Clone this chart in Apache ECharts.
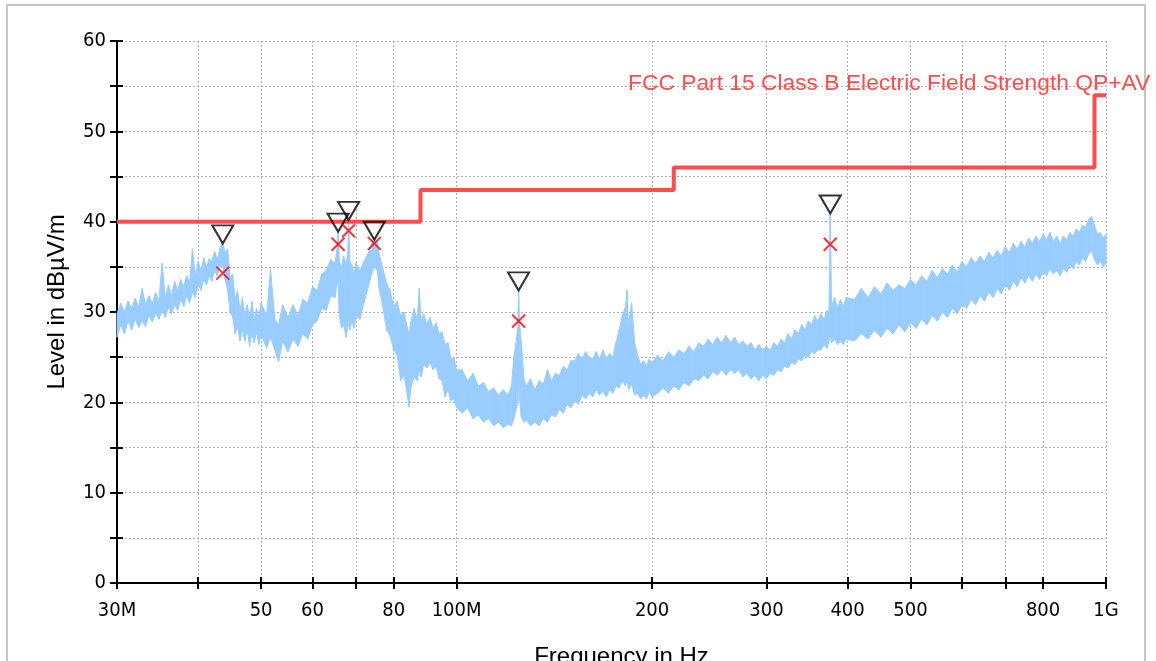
<!DOCTYPE html>
<html>
<head>
<meta charset="utf-8">
<title>Radiated emission scan</title>
<script src="https://cdn.jsdelivr.net/npm/echarts@6.0.0/dist/echarts.min.js"></script>
<style>
  html, body { margin: 0; padding: 0; background: #fff; }
  #chart { width: 1156px; height: 661px; }
</style>
</head>
<body>
<div id="chart"></div>
<script>
// scan trace drawn as a noise band: frequency in MHz, min / max level in dBuV/m
var bandFreq = [
  30.0, 30.4, 30.8, 31.2, 31.6, 32.0, 32.4, 32.8, 33.2, 33.6, 34.0, 34.4, 34.8, 35.2, 35.6, 36.0, 36.4,
  36.8, 37.2, 37.6, 38.0, 38.4, 38.8, 39.2, 39.6, 40.0, 40.4, 40.8, 41.2, 41.6, 42.0, 42.4, 42.8, 43.2,
  43.6, 44.0, 44.4, 44.8, 45.2, 45.6, 46.0, 46.4, 46.8, 47.2, 47.6, 48.0, 48.4, 48.8, 49.2, 49.6, 50.0,
  51, 51.7, 52.5, 53.2, 54, 55, 56, 57, 58, 59, 60, 61, 62, 63, 64, 65, 65.4, 65.7, 66.0, 66.5, 67, 67.6,
  68.0, 68.2, 68.5, 69, 69.5, 70, 71, 72, 73, 74, 74.7, 75.5, 76, 77, 78, 79, 80, 81, 82, 83, 84, 84.5,
  85, 86, 87, 87.6, 88.2, 89, 90, 91, 92, 93, 94, 95, 96, 97, 98, 99, 100,
  102, 104, 106, 108, 110, 112, 114, 116, 118, 120, 121.5, 122.5, 123.5, 124.2, 124.6, 125.0, 125.8, 127,
  128, 130, 132, 134, 136, 138, 140, 142, 144, 146, 148, 150, 152, 154, 156, 158, 160, 162, 164, 166,
  168, 170, 172, 174, 176, 178, 180, 182, 183, 184, 186, 188, 190, 192, 194, 196, 198, 200,
  204, 208, 212, 216, 220, 224, 228, 232, 236, 240, 244, 248, 252, 256, 260, 264, 268, 272, 276, 280,
  284, 288, 292, 296, 300, 304, 308, 312, 316, 320, 324, 328, 332, 336, 340, 344, 348, 352, 356, 360,
  364, 368, 372, 374.5, 376.2, 378, 382, 386, 390, 394, 398,
  410, 420, 430, 440, 450, 460, 470, 480, 490, 500, 510, 520, 530, 540, 550, 560, 570, 580, 590, 600,
  610, 620, 630, 640, 650, 660, 670, 680, 690, 700, 710, 720, 730, 740, 750, 760, 770, 780, 790, 800,
  810, 820, 830, 840, 850, 860, 870, 880, 890, 900, 910, 920, 930, 940, 950, 960, 970, 980, 990, 1000
];
var bandLow = [
  27.2, 28.6, 27.6, 29.0, 28.0, 29.2, 28.3, 29.0, 28.4, 29.6, 28.9, 29.8, 29.2, 30.2, 29.4, 30.5, 29.8,
  30.8, 30.2, 31.4, 30.6, 31.8, 31.0, 32.2, 31.6, 33.0, 32.4, 33.6, 33.0, 34.0, 33.4, 34.6, 34.0, 35.0,
  35.2, 33.6, 32.5, 30.0, 29.5, 27.6, 28.4, 26.8, 28.0, 26.8, 28.0, 26.2, 27.6, 26.6, 27.8, 26.4, 27.5,
  26.0, 27.2, 25.8, 24.5, 26.8, 25.6, 27.0, 26.2, 27.6, 27.0, 28.6, 29.0, 30.4, 30.2, 31.8, 31.6, 33.0, 33.4, 29.6, 28.2, 28.6, 27.2,
  28.4, 29.2, 28.0, 29.0, 28.2, 29.6, 29.2, 31.0, 32.6, 34.2, 35.0, 34.6, 32.6, 30.6, 28.0, 27.4, 25.8, 25.2, 22.4, 23.0, 20.8, 19.5,
  21.6, 22.8, 22.4, 23.6, 22.8, 24.2, 23.8, 24.4, 23.6, 24.0, 22.6, 22.4, 20.6, 21.4, 20.2, 20.4, 19.4,
  18.8, 19.4, 18.2, 18.6, 17.8, 18.2, 17.4, 17.8, 17.2, 17.6, 17.4, 18.2, 19.2, 20.0, 22.0, 20.4, 18.4, 17.8,
  18.0, 17.4, 17.8, 17.4, 18.2, 17.8, 18.6, 18.4, 19.2, 18.8, 19.8, 19.4, 20.2, 19.8, 20.8, 20.4, 21.0, 20.6, 21.4, 20.8,
  21.2, 20.6, 21.4, 21.0, 21.8, 21.6, 22.4, 21.8, 22.6, 21.4, 22.0, 20.8, 21.0, 20.4, 20.8, 20.4, 21.2, 20.6,
  21.0, 21.6, 21.0, 21.8, 21.4, 22.2, 21.8, 22.6, 22.4, 23.0, 22.6, 23.4, 23.0, 23.6, 23.0, 23.6, 23.2, 23.6, 22.8, 23.2,
  22.6, 23.0, 22.4, 23.0, 22.6, 23.2, 23.0, 23.6, 23.4, 24.0, 23.8, 24.4, 24.2, 24.8, 24.6, 25.2, 25.0, 25.6, 25.4, 25.8,
  25.8, 26.4, 26.0, 26.8, 27.5, 26.6, 27.0, 26.4, 26.8, 26.4, 27.0,
  26.8, 27.6, 27.0, 28.0, 27.2, 28.2, 27.6, 28.6, 27.8, 28.8, 28.2, 29.2, 28.6, 29.6, 29.0, 30.0, 29.4, 30.4, 29.8, 30.8,
  30.4, 31.4, 30.8, 31.8, 31.2, 32.2, 31.6, 32.6, 32.0, 33.0, 32.4, 33.4, 32.8, 33.8, 33.2, 34.0, 33.4, 34.2, 33.6, 34.4,
  34.0, 34.8, 34.2, 34.6, 34.0, 34.8, 34.4, 35.2, 34.8, 35.6, 35.2, 36.0, 35.6, 36.4, 36.8, 35.8, 35.2, 35.6, 35.0, 35.4
];
var bandHigh = [
  29.8, 31.0, 30.0, 31.2, 30.4, 31.5, 30.6, 32.6, 30.8, 31.8, 30.9, 32.2, 31.2, 35.4, 31.6, 33.0, 31.8,
  33.4, 32.4, 33.6, 32.8, 34.0, 33.2, 37.0, 34.0, 35.6, 34.6, 36.0, 35.0, 35.9, 35.6, 36.7, 35.8, 37.0,
  37.8, 36.6, 37.0, 33.8, 34.2, 31.5, 32.4, 30.2, 31.6, 29.6, 30.8, 29.4, 31.2, 29.2, 30.4, 29.4, 31.0,
  29.6, 34.8, 29.2, 28.6, 30.8, 29.4, 30.8, 29.6, 31.4, 31.0, 32.8, 32.4, 34.2, 34.6, 35.8, 35.4, 36.8, 38.9, 35.6, 35.0, 36.2, 35.2,
  36.6, 40.0, 35.6, 35.2, 34.2, 35.4, 34.6, 35.6, 36.4, 37.6, 38.2, 37.8, 36.4, 34.8, 33.2, 32.4, 30.6, 31.2, 29.6, 30.0, 28.2, 27.6,
  28.8, 30.4, 29.2, 32.6, 29.0, 29.8, 28.6, 29.4, 28.2, 28.8, 27.6, 27.8, 26.4, 26.6, 24.8, 25.0, 23.6,
  23.6, 22.4, 23.2, 21.8, 22.2, 21.2, 21.6, 20.8, 21.4, 20.8, 21.8, 25.0, 26.6, 28.2, 32.4, 28.8, 26.6, 22.6,
  21.8, 22.6, 21.4, 22.4, 22.0, 23.6, 22.4, 23.2, 23.0, 24.0, 23.6, 24.6, 24.6, 25.4, 24.8, 25.6, 25.0, 24.8, 25.6, 24.8,
  25.8, 24.8, 25.4, 25.0, 26.6, 28.0, 29.6, 30.6, 32.4, 28.6, 31.0, 26.6, 25.2, 24.2, 24.6, 24.0, 24.8, 24.4,
  25.2, 24.6, 25.6, 25.0, 25.8, 25.4, 26.2, 25.6, 26.6, 26.2, 27.0, 26.4, 27.2, 26.6, 27.4, 26.6, 27.2, 26.4, 26.8, 26.2,
  26.6, 25.8, 26.4, 25.8, 26.2, 25.8, 26.6, 26.2, 27.0, 26.6, 27.6, 27.0, 28.0, 27.6, 28.6, 28.0, 29.0, 28.6, 29.6, 29.0,
  29.8, 29.2, 30.2, 30.0, 40.9, 30.6, 31.6, 30.4, 31.4, 30.6, 31.6,
  31.4, 32.6, 31.6, 32.8, 32.0, 33.2, 32.4, 33.0, 32.6, 33.6, 33.0, 34.0, 33.4, 34.6, 33.8, 34.8, 34.2, 35.2, 34.4, 35.6,
  35.0, 36.0, 35.4, 36.2, 35.6, 36.6, 36.0, 36.8, 36.2, 37.2, 36.6, 37.6, 37.0, 37.8, 37.2, 38.2, 37.6, 38.4, 37.8, 38.6,
  38.0, 38.8, 37.8, 38.4, 37.6, 38.4, 38.0, 38.8, 38.4, 39.2, 38.8, 39.6, 39.4, 40.2, 40.6, 39.6, 38.6, 38.8, 38.2, 38.6
];

// FCC Part 15 Class B limit (steps)
var limitFreq = [30, 88, 88, 216, 216, 960, 960, 1000];
var limitLevel = [40, 40, 43.5, 43.5, 46, 46, 54, 54];

// peak markers (triangles) and QP results (crosses)
var peakFreq = [43.65, 65.7, 68.2, 74.7, 124.6, 376.2];
var peakLevel = [37.6, 38.9, 40.2, 38.0, 32.4, 40.9];
var qpFreq = [43.65, 65.7, 68.2, 74.7, 124.6, 376.2];
var qpLevel = [34.3, 37.5, 39.0, 37.6, 29.0, 37.5];

// axis ticks
var xTickValues = [30, 40, 50, 60, 70, 80, 100, 200, 300, 400, 500, 600, 700, 800, 1000];
var xLabelValues = [30, 50, 60, 80, 100, 200, 300, 400, 500, 800, 1000];
var xLabelTexts = ['30M', '50', '60', '80', '100M', '200', '300', '400', '500', '800', '1G'];

function zip(xs, ys) {
  return xs.map(function (x, i) { return [x, ys[i]]; });
}

// one row per band piece: this point and the next one
var bandPieces = [];
for (var i = 0; i < bandFreq.length - 1; i++) {
  bandPieces.push([bandFreq[i], bandLow[i], bandHigh[i], bandFreq[i + 1], bandLow[i + 1], bandHigh[i + 1]]);
}

var chart = echarts.init(document.getElementById('chart'));
var red = '#ff4d4d';
var blue = '#99ccff';
var gridLine = { color: '#b0b0b0', width: 1, type: [2, 2] };

chart.setOption({
  animation: false,
  grid: { left: 117, right: 50, top: 41, bottom: 78, outerBoundsMode: 'none', containLabel: false },
  graphic: [
    {
      type: 'rect',
      shape: { x: 7, y: 5, width: 1138, height: 700 },
      style: { fill: 'none', stroke: '#c4c4c4', lineWidth: 2 },
      silent: true
    },
    {
      type: 'text',
      x: 628,
      y: 72,
      style: {
        text: 'FCC Part 15 Class B Electric Field Strength QP+AV',
        fill: red,
        font: '22.8px "Liberation Sans"'
      },
      z: 10
    }
  ],
  xAxis: [
    {
      type: 'log',
      logBase: 10,
      min: 30,
      max: 1000,
      name: 'Frequency in Hz',
      nameLocation: 'middle',
      nameGap: 62,
      nameTextStyle: { fontFamily: 'Liberation Sans', fontSize: 24, color: '#000', padding: [0, 0, 0, 20] },
      axisLine: { lineStyle: { color: '#000', width: 2 } },
      axisTick: { customValues: xTickValues, length: 6, lineStyle: { color: '#000', width: 2 } },
      axisLabel: {
        customValues: xLabelValues,
        margin: 18,
        fontFamily: 'DejaVu Sans Condensed',
        fontSize: 20,
        color: '#000',
        formatter: function (v) {
          var k = xLabelValues.findIndex(function (t) { return Math.abs(t - v) < t * 0.01; });
          return k < 0 ? '' : xLabelTexts[k];
        }
      },
      splitLine: { show: true, lineStyle: gridLine },
      minorTick: { show: false },
      minorSplitLine: { show: false }
    },
    {
      type: 'log',
      logBase: 10,
      min: 30,
      max: 1000,
      position: 'bottom',
      axisLine: { show: false },
      axisTick: { customValues: xTickValues, inside: true, length: 6, lineStyle: { color: '#000', width: 2 } },
      axisLabel: { show: false },
      splitLine: { show: false }
    }
  ],
  yAxis: [
    {
      type: 'value',
      min: 0,
      max: 60,
      interval: 5,
      name: 'Level in dBµV/m',
      nameLocation: 'middle',
      nameGap: 48,
      nameTextStyle: { fontFamily: 'Liberation Sans', fontSize: 24, color: '#000', padding: [0, 0, 0, 20] },
      axisLine: { show: true, lineStyle: { color: '#000', width: 2 } },
      axisTick: { show: true, length: 7, lineStyle: { color: '#000', width: 2 } },
      axisLabel: {
        margin: 11,
        fontFamily: 'DejaVu Sans Condensed',
        fontSize: 20,
        color: '#000',
        formatter: function (v) { return v % 10 === 0 ? String(v) : ''; }
      },
      splitLine: { show: true, lineStyle: gridLine }
    },
    {
      type: 'value',
      min: 0,
      max: 60,
      interval: 5,
      position: 'left',
      axisLine: { show: false },
      axisTick: { show: true, inside: true, length: 6, lineStyle: { color: '#000', width: 2 } },
      axisLabel: { show: false },
      splitLine: { show: false }
    }
  ],
  series: [
    {
      name: 'Scan',
      type: 'custom',
      data: bandPieces,
      encode: { x: [0, 3], y: [1, 2, 4, 5] },
      renderItem: function (params, api) {
        var a = api.coord([api.value(0), api.value(1)]);
        var b = api.coord([api.value(0), api.value(2)]);
        var c = api.coord([api.value(3), api.value(5)]);
        var d = api.coord([api.value(3), api.value(4)]);
        return {
          type: 'polygon',
          shape: { points: [a, b, c, d] },
          style: { fill: blue, stroke: blue, lineWidth: 1 }
        };
      },
      silent: true,
      z: 2
    },
    {
      name: 'Limit',
      type: 'line',
      data: zip(limitFreq, limitLevel),
      showSymbol: false,
      lineStyle: { color: red, width: 4 },
      z: 3
    },
    {
      name: 'Peak',
      type: 'scatter',
      data: zip(peakFreq, peakLevel),
      symbol: 'path://M0,0L20,0L10,17Z',
      symbolSize: [21, 18],
      symbolOffset: [0, -9],
      itemStyle: { color: 'rgba(0,0,0,0)', borderColor: '#000', borderWidth: 2 },
      z: 5
    },
    {
      name: 'QP',
      type: 'scatter',
      data: zip(qpFreq, qpLevel),
      symbol: 'path://M0,0L10,10M10,0L0,10',
      symbolSize: 13,
      itemStyle: { color: 'rgba(0,0,0,0)', borderColor: '#ff0000', borderWidth: 2 },
      z: 6
    }
  ]
});
</script>
</body>
</html>
